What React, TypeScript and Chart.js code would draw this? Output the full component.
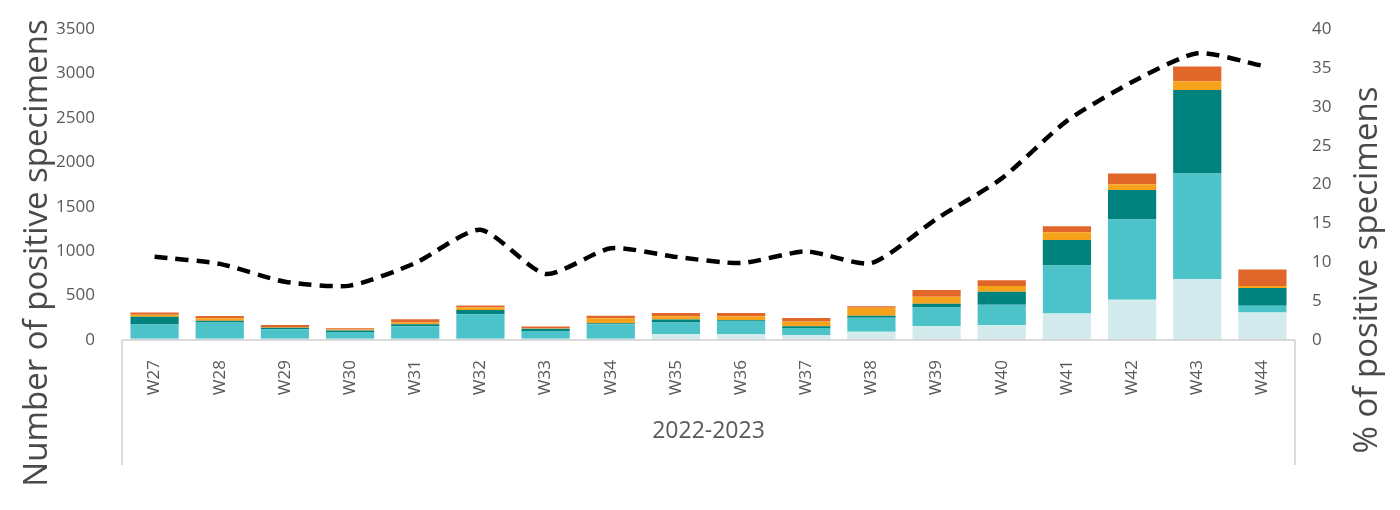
import React, { useEffect, useRef } from "react";
import { Chart, registerables } from "chart.js";

Chart.register(...registerables);

const weeks = ["W27","W28","W29","W30","W31","W32","W33","W34","W35","W36","W37","W38","W39","W40","W41","W42","W43","W44"];
const seriesLight = [15,15,15,15,15,15,15,15,67,67,56,92,155,166,298,453,684,309];
const seriesTurquoise = [160,181,107,74,141,274,85,163,130,148,78,159,210,232,541,905,1192,77];
const seriesTeal = [88,22,17,18,22,48,26,11,33,8,22,22,44,144,287,331,938,199];
const seriesYellow = [20,26,8,12,18,30,5,55,37,44,52,89,77,66,88,66,99,22];
const seriesOrange = [28,27,22,12,37,22,22,30,37,37,41,18,77,66,66,121,166,188];
const percentPositive = [10.7,9.8,7.5,7.0,9.9,14.2,8.5,11.8,10.7,9.9,11.4,9.9,15.6,20.8,28.2,33.2,36.9,35.3];
const leftTicks = [0,500,1000,1500,2000,2500,3000,3500];
const rightTicks = [0,5,10,15,20,25,30,35,40];
const groupLabel = "2022-2023";
const leftTitle = "Number of positive specimens";
const rightTitle = "% of positive specimens";

const FONT = "'Open Sans', 'Noto Sans', sans-serif";
const TEXT = "#595959";

const framePlugin = {
  id: "frame",
  afterDraw(chart: any) {
    const { ctx, chartArea } = chart;
    const { left, right, bottom } = chartArea;
    ctx.save();
    ctx.strokeStyle = "#d0d0d0";
    ctx.lineWidth = 1.5;
    ctx.beginPath();
    ctx.moveTo(left, bottom);
    ctx.lineTo(right, bottom);
    ctx.moveTo(left, bottom);
    ctx.lineTo(left, 465);
    ctx.moveTo(right, bottom);
    ctx.lineTo(right, 465);
    ctx.stroke();

    ctx.fillStyle = TEXT;
    ctx.font = `23px ${FONT}`;
    ctx.textAlign = "center";
    ctx.textBaseline = "middle";
    ctx.fillText(groupLabel, (left + right) / 2, 431);

    ctx.fillStyle = "#4a4a4a";
    ctx.font = `33px ${FONT}`;
    ctx.textBaseline = "alphabetic";
    ctx.save();
    ctx.translate(47, 253);
    ctx.rotate(-Math.PI / 2);
    ctx.fillText(leftTitle, 0, 0);
    ctx.restore();
    ctx.save();
    ctx.translate(1377, 270);
    ctx.rotate(-Math.PI / 2);
    ctx.fillText(rightTitle, 0, 0);
    ctx.restore();
    ctx.restore();
  },
};

export default function App() {
  const ref = useRef<HTMLCanvasElement>(null);
  useEffect(() => {
    if (!ref.current) return;
    const barDs = (label: string, data: number[], color: string) => ({
      type: "bar" as const,
      label,
      data,
      backgroundColor: color,
      borderWidth: 0,
      stack: "s",
      yAxisID: "y",
      order: 1,
      categoryPercentage: 1,
      barPercentage: 0.74,
    });
    const chart = new Chart(ref.current, {
      type: "bar",
      data: {
        labels: weeks,
        datasets: [
          {
            type: "line" as const,
            label: "% positive",
            data: percentPositive,
            yAxisID: "y1",
            borderColor: "#000000",
            borderWidth: 4.5,
            borderDash: [13, 8],
            pointRadius: 0,
            tension: 0.22,
            fill: false,
            order: 0,
          } as any,
          barDs("light", seriesLight, "#d3ebed"),
          barDs("turquoise", seriesTurquoise, "#4cc3c8"),
          barDs("teal", seriesTeal, "#00837f"),
          barDs("yellow", seriesYellow, "#f7a21b"),
          barDs("orange", seriesOrange, "#e0662a"),
        ],
      },
      options: {
        animation: false,
        responsive: true,
        maintainAspectRatio: false,
        layout: { padding: { top: 26, bottom: 0, left: 0, right: 0 } },
        plugins: { legend: { display: false }, tooltip: { enabled: false } },
        scales: {
          x: {
            stacked: true,
            grid: { display: false },
            border: { display: false },
            ticks: {
              color: TEXT,
              font: { family: FONT, size: 17 },
              minRotation: 90,
              maxRotation: 90,
              autoSkip: false,
              padding: 12,
            },
            afterFit: (s: any) => { s.height = 170; },
          },
          y: {
            stacked: true,
            position: "left",
            min: 0,
            max: 3500,
            grid: { display: false },
            border: { display: false },
            afterBuildTicks: (s: any) => { s.ticks = leftTicks.map((v) => ({ value: v })); },
            ticks: {
              color: TEXT,
              font: { family: FONT, size: 17 },
              padding: 19,
              callback: (v: any) => String(v),
            },
            afterFit: (s: any) => { s.width = 122; },
          },
          y1: {
            position: "right",
            min: 0,
            max: 40,
            grid: { display: false },
            border: { display: false },
            afterBuildTicks: (s: any) => { s.ticks = rightTicks.map((v) => ({ value: v })); },
            ticks: {
              color: TEXT,
              font: { family: FONT, size: 17 },
              padding: 9,
              callback: (v: any) => String(v),
            },
            afterFit: (s: any) => { s.width = 105; },
          },
        },
      } as any,
      plugins: [framePlugin],
    });
    return () => chart.destroy();
  }, []);
  return (
    <div style={{ position: "fixed", left: 0, top: 0, width: 1400, height: 510, background: "#fff" }}>
      <canvas ref={ref} />
    </div>
  );
}
